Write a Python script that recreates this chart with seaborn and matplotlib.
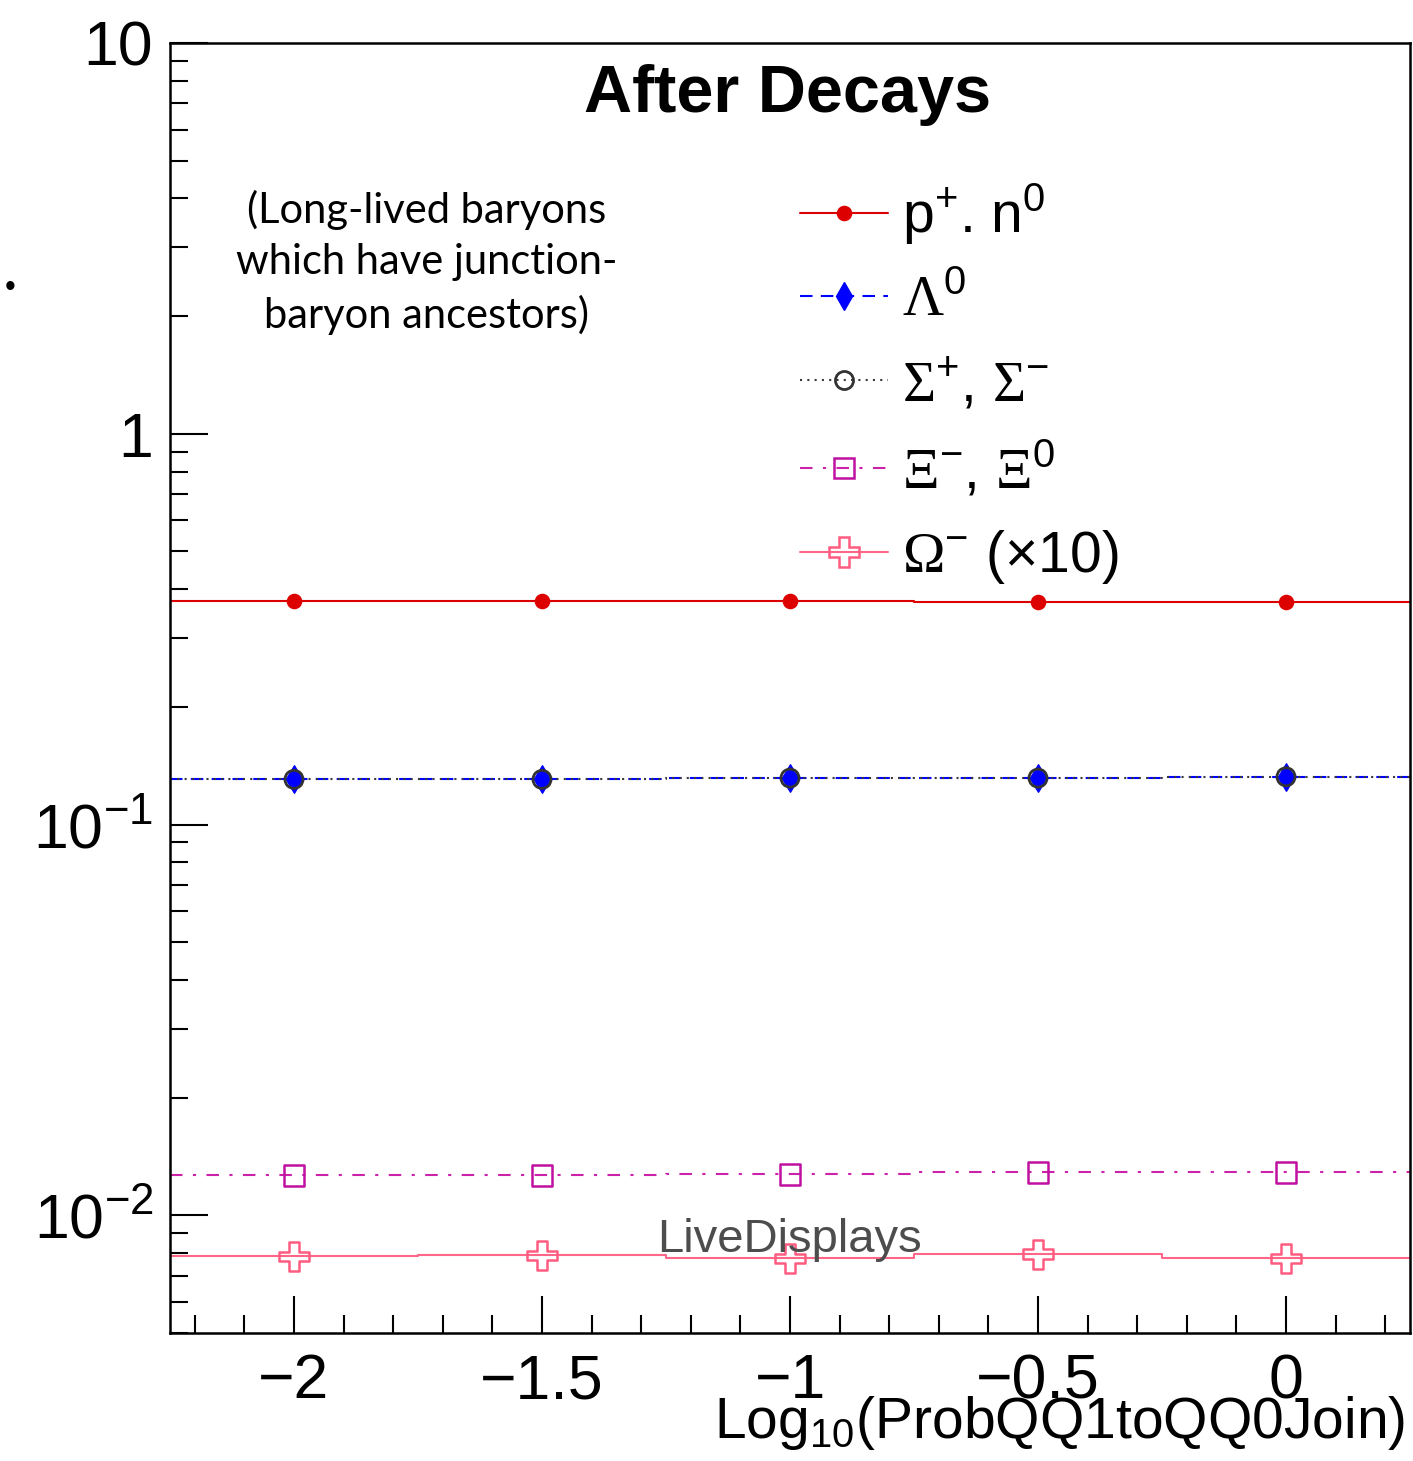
import numpy as np
import pandas as pd
import matplotlib
matplotlib.use('Agg')
import matplotlib.pyplot as plt
import matplotlib.ticker as mticker
from matplotlib.lines import Line2D
import seaborn as sns

# data
x_vals = [-2.0, -1.5, -1.0, -0.5, 0.0]
bin_edges = [-2.25, -1.75, -1.25, -0.75, -0.25, 0.25]
p_n = [0.374, 0.374, 0.373, 0.372, 0.371]
lambda0 = [0.131, 0.131, 0.1318, 0.1318, 0.1326]
sigma = [0.1305, 0.1305, 0.1315, 0.1315, 0.1325]
xi = [0.01266, 0.01266, 0.01273, 0.01288, 0.01288]
omega_x10 = [0.00785, 0.0079, 0.00776, 0.00795, 0.00776]

# greek letters in serif (sf slot mapped to a serif face), the rest sans
labels = [r'p$^{+}$. n$^{0}$', r'$\mathsf{\Lambda}^{0}$',
          r'$\mathsf{\Sigma}^{+}$, $\mathsf{\Sigma}^{-}$', r'$\mathsf{\Xi}^{-}$, $\mathsf{\Xi}^{0}$',
          r'$\mathsf{\Omega}^{-}$ (×10)']
xtick_labels = ['\u22122', '\u22121.5', '\u22121', '\u22120.5', '0']
ytick_vals = [10, 1, 0.1, 0.01]
ytick_labels = ['10', '1', r'$10^{-1}$', r'$10^{-2}$']

sns.set_style('ticks')
plt.rcParams['font.family'] = ['Liberation Sans', 'DejaVu Sans']
plt.rcParams['mathtext.fontset'] = 'custom'
plt.rcParams['mathtext.rm'] = 'Liberation Sans'
plt.rcParams['mathtext.it'] = 'Liberation Sans:italic'
plt.rcParams['mathtext.bf'] = 'Liberation Sans:bold'
plt.rcParams['mathtext.sf'] = 'Liberation Serif'
for k in ['text.color', 'axes.labelcolor', 'xtick.color', 'ytick.color', 'axes.edgecolor']:
    plt.rcParams[k] = 'black'

fig = plt.figure(figsize=(14.13, 14.61), dpi=100)
ax = fig.add_axes([0.1203, 0.0876, 0.8776, 0.883])

styles = [
    dict(series=p_n, color='#dd0000', ls='-', marker='o', ms=10, fc='#dd0000', ec='#dd0000', mew=1.2),
    dict(series=lambda0, color='#0000ff', ls=(0, (6, 4)), marker='d', ms=14, fc='#0000ff', ec='#0000ff', mew=1.0),
    dict(series=sigma, color='#3a3a3a', ls=(0, (1, 2.5)), marker='o', ms=13, fc='none', ec='#333333', mew=2.0),
    dict(series=xi, color='#cc22aa', ls=(0, (6, 5, 1.5, 5)), marker='s', ms=15, fc='none', ec='#c010a0', mew=1.8),
    dict(series=omega_x10, color='#ff6688', ls='-', marker='P', ms=21, fc='none', ec='#ff5c80', mew=1.8),
]

handles = []
for st in styles:
    sns.histplot(x=x_vals, weights=st['series'], bins=bin_edges, element='step', fill=False,
                 color=st['color'], linestyle=st['ls'], linewidth=1.5, ax=ax)
for st in styles:
    df = pd.DataFrame({'x': x_vals, 'y': st['series']})
    sns.scatterplot(data=df, x='x', y='y', marker=st['marker'], s=st['ms'] ** 2,
                    facecolor=st['fc'], edgecolor=st['ec'], linewidth=st['mew'], ax=ax, zorder=5)
    handles.append(Line2D([], [], color=st['color'], ls=st['ls'], lw=1.5, marker=st['marker'],
                          markersize=st['ms'], markerfacecolor=st['fc'],
                          markeredgecolor=st['ec'], markeredgewidth=st['mew']))

ax.set_yscale('log')
ax.set_xlim(-2.25, 0.25)
ax.set_ylim(0.005, 10)

ax.xaxis.set_major_locator(mticker.FixedLocator(x_vals))
ax.xaxis.set_major_formatter(mticker.FixedFormatter(xtick_labels))
ax.xaxis.set_minor_locator(mticker.MultipleLocator(0.1))
ax.yaxis.set_major_locator(mticker.FixedLocator(ytick_vals))
ax.yaxis.set_major_formatter(mticker.FixedFormatter(ytick_labels))
ax.yaxis.set_minor_locator(mticker.LogLocator(base=10, subs=np.arange(2, 10)))
ax.yaxis.set_minor_formatter(mticker.NullFormatter())

ax.tick_params(which='both', direction='in', top=False, right=False, width=1.5, colors='black')
ax.tick_params(which='major', length=27, labelsize=45, pad=14)
ax.tick_params(which='minor', length=13)
ax.tick_params(axis='y', which='major', pad=12)
for sp in ax.spines.values():
    sp.set_linewidth(1.8)
    sp.set_color('black')

ax.set_ylabel('')
ax.set_xlabel(r'Log$_{10}$(ProbQQ1toQQ0Join)', fontsize=41, ha='right', va='top')
ax.xaxis.set_label_coords(0.996, -0.047)

ax.text(0.498, 0.960, 'After Decays', transform=ax.transAxes, ha='center', va='center',
        fontsize=48, fontweight='bold')
ax.text(0.207, 0.830, '(Long-lived baryons\nwhich have junction-\nbaryon ancestors)',
        transform=ax.transAxes, ha='center', va='center', fontsize=30, family=['Lato', 'DejaVu Sans'],
        linespacing=1.42)
ax.text(0.393, 0.0628, 'LiveDisplays', transform=ax.transAxes, ha='left', va='baseline',
        fontsize=34, color='#4d4d4d', zorder=10)
fig.text(10 / 1413, 1 - 288 / 1461, '\u2022', fontsize=22, ha='center', va='center')

ax.legend(handles=handles, labels=labels, loc='upper left', bbox_to_anchor=(0.508, 0.893),
          frameon=False, fontsize=41, handlelength=1.54, handletextpad=0.26, labelspacing=0.48,
          borderpad=0, borderaxespad=0)

fig.savefig('out.png', dpi=100)
